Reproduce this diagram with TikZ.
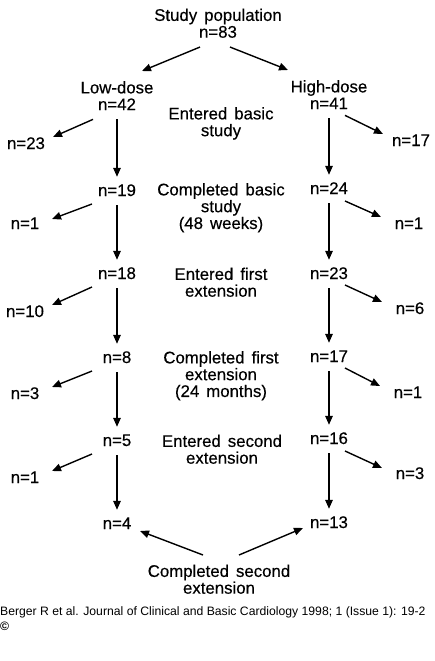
\documentclass[tikz,border=0pt]{standalone}
\usepackage{fontspec}
\setmainfont{Liberation Sans}
\newfontfamily\diagfont[WordSpace=1.5,FakeBold=0.35]{Liberation Sans}
\usetikzlibrary{arrows.meta,calc}
\begin{document}
\begin{tikzpicture}[x=1pt,y=-1pt,
  lbl/.style={font=\diagfont\fontsize{16.8}{16.8}\selectfont, align=center, inner sep=0pt, anchor=north},
  cnt/.style={font=\diagfont\fontsize{16.8}{16.8}\selectfont, inner sep=0pt, text height=12pt, text depth=0pt},
  arr/.style={line width=1.4pt, -{Triangle[length=9pt,width=7.5pt]}},
  vert/.style={arr, shorten <=9pt, shorten >=7pt}]
\fill[white] (0,0) rectangle (434,661);
\useasboundingbox (0,0) rectangle (434,661);

% headings and stage labels
\node[lbl] (study) at (218,8.5) {Study population\\n=83};
\node[lbl] (low) at (117,81) {Low-dose\\n=42};
\node[lbl] (high) at (329,80) {High-dose\\n=41};
\node[lbl] (t1) at (221,107) {Entered basic\\study};
\node[lbl] (t2) at (221,183) {Completed basic\\study\\(48 weeks)};
\node[lbl] (t3) at (221,267.5) {Entered first\\extension};
\node[lbl] (t4) at (221,351) {Completed first\\extension\\(24 months)};
\node[lbl] (t5) at (222,434.5) {Entered second\\extension};
\node[lbl] (t6) at (219,564.5) {Completed second\\extension};

% left column
\node[cnt] (l19) at (117,190) {n=19};
\node[cnt] (l18) at (117,273) {n=18};
\node[cnt] (l8) at (117,357) {n=8};
\node[cnt] (l5) at (117,440) {n=5};
\node[cnt] (l4) at (117,523) {n=4};
% right column
\node[cnt] (r24) at (329,188) {n=24};
\node[cnt] (r23) at (329,273) {n=23};
\node[cnt] (r17) at (329,356) {n=17};
\node[cnt] (r16) at (329,438) {n=16};
\node[cnt] (r13) at (329,522) {n=13};
% left drop-outs
\node[cnt] (w23) at (26,143) {n=23};
\node[cnt] (w1a) at (25,223) {n=1};
\node[cnt] (w10) at (25,311) {n=10};
\node[cnt] (w3) at (25,393) {n=3};
\node[cnt] (w1b) at (25,477) {n=1};
% right drop-outs
\node[cnt] (v17) at (411,140) {n=17};
\node[cnt] (v1a) at (409,223) {n=1};
\node[cnt] (v6) at (410,308) {n=6};
\node[cnt] (v1b) at (408,392) {n=1};
\node[cnt] (v3) at (410,473) {n=3};

% top split
\draw[arr] ($(study.south)+(-18,9)$) -- ($(low.north)+(25,-10)$);
\draw[arr] ($(study.south)+(12,9)$) -- ($(high.north)+(-41,-10)$);

% vertical arrows
\draw[vert] (low.south) -- (l19.north);
\draw[vert] (l19.south) -- (l18.north);
\draw[vert] (l18.south) -- (l8.north);
\draw[vert] (l8.south) -- (l5.north);
\draw[vert] (l5.south) -- (l4.north);
\draw[vert] (high.south) -- (r24.north);
\draw[vert] (r24.south) -- (r23.north);
\draw[vert] (r23.south) -- (r17.north);
\draw[vert] (r17.south) -- (r16.north);
\draw[vert] (r16.south) -- (r13.north);

% left diagonal arrows
\draw[arr] ($(low.south)+(-24,9)$) -- ($(w23)+(27,-6)$);
\draw[arr] ($(l19)+(-25,14)$) -- ($(w1a)+(27,-4)$);
\draw[arr] ($(l18)+(-25,14)$) -- ($(w10)+(27,-6)$);
\draw[arr] ($(l8)+(-25,14)$) -- ($(w3)+(27,-6)$);
\draw[arr] ($(l5)+(-25,14)$) -- ($(w1b)+(27,-6)$);
% right diagonal arrows
\draw[arr] ($(high.south)+(16,6)$) -- ($(v17)+(-28,-6)$);
\draw[arr] ($(r24)+(16,13)$) -- ($(v1a)+(-28,-6)$);
\draw[arr] ($(r23)+(16,12)$) -- ($(v6)+(-28,-6)$);
\draw[arr] ($(r17)+(16,12)$) -- ($(v1b)+(-28,-6)$);
\draw[arr] ($(r16)+(16,13)$) -- ($(v3)+(-28,-5)$);

% bottom join
\draw[arr] ($(t6.north)+(-16,-9.5)$) -- ($(l4)+(23,8)$);
\draw[arr] ($(t6.north)+(20,-9.5)$) -- ($(r13)+(-26,6)$);

% footer
\node[font=\fontsize{12.2}{15}\selectfont, anchor=base west, inner sep=0pt] (cite) at (0,615) {Berger R et al. Journal of Clinical and Basic Cardiology 1998; 1 (Issue 1): 19-2};
\node[font=\bfseries\fontsize{12.2}{15}\selectfont, anchor=base west, inner sep=0pt] (copy) at (0,630) {©};
\end{tikzpicture}
\end{document}
